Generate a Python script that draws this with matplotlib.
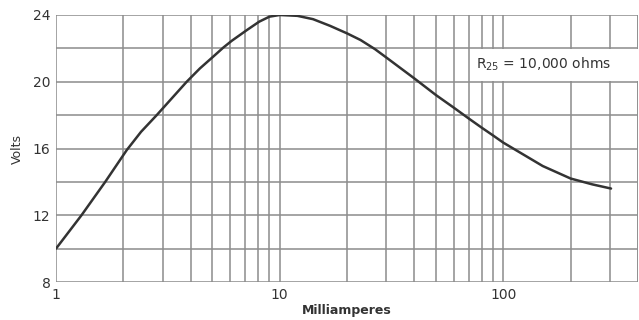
import matplotlib
matplotlib.use('Agg')
import matplotlib.pyplot as plt
from matplotlib.patches import Rectangle
from matplotlib.ticker import FixedLocator, NullFormatter

# Кривая напряжения термистора в зависимости от тока
current_ma = [1.0, 1.3, 1.66, 2.07, 2.4, 2.82, 3.84, 4.4, 5.04, 5.6, 6.1, 7.14, 8.1, 9.0,
              10, 12, 14.1, 16.8, 20, 23, 26.7, 30, 40, 50, 60, 70, 80, 90, 100, 150,
              200, 250, 303]
volts = [10.0, 12.0, 14.0, 15.9, 17.0, 18.0, 20.0, 20.8, 21.5, 22.05, 22.45, 23.1, 23.6,
         23.9, 24.0, 23.95, 23.75, 23.35, 22.9, 22.5, 21.95, 21.45, 20.2, 19.2, 18.45,
         17.8, 17.25, 16.78, 16.35, 14.95, 14.2, 13.85, 13.6]

x_labels = ['1', '10', '100']
x_label_pos = [1, 10, 100]
y_label_pos = [8, 12, 16, 20, 24]

grid_color = '#8c8c8c'
ink = '#333333'

plt.rcParams['font.family'] = ['DejaVu Sans']

fig = plt.figure(figsize=(6.39, 3.2), dpi=100)
ax = fig.add_axes([56 / 639, 38 / 320, 582 / 639, 267 / 320])

ax.set_xscale('log')
ax.set_xlim(1, 400)
ax.set_ylim(8, 24)

# сетка: вертикальные линии на каждом целом кратном декады, горизонтальные через 2 В
vlines = [m * 10 ** d for d in range(3) for m in range(1, 10)] + [400]
for v in vlines:
    ax.axvline(v, color=grid_color, lw=1.1, zorder=1)
for h in range(8, 25, 2):
    ax.axhline(h, color=grid_color, lw=1.1, zorder=1)

ax.plot(current_ma, volts, color=ink, lw=1.8, zorder=3,
        solid_capstyle='round', solid_joinstyle='round')

ax.xaxis.set_major_locator(FixedLocator(x_label_pos))
ax.xaxis.set_minor_locator(FixedLocator([]))
ax.xaxis.set_minor_formatter(NullFormatter())
ax.set_xticklabels(x_labels)
ax.set_yticks(y_label_pos)
ax.tick_params(axis='both', length=0, labelsize=10, colors=ink, pad=4)

for s in ax.spines.values():
    s.set_visible(False)

ax.set_xlabel('Milliamperes', fontsize=9, color=ink, labelpad=2, fontweight='bold')
ax.set_ylabel('Volts', fontsize=9, color=ink, labelpad=6)

# белая плашка под подписью сопротивления
ax.add_patch(Rectangle((0.711, 0.753), 0.3, 0.12, transform=ax.transAxes,
                       facecolor='white', edgecolor='none', zorder=2, clip_on=False))
ax.text(0.722, 0.816, r'R$_{25}$ = 10,000 ohms', transform=ax.transAxes,
        fontsize=10, color=ink, va='center', ha='left', zorder=4)

fig.savefig('out.png', dpi=100, facecolor='white')
